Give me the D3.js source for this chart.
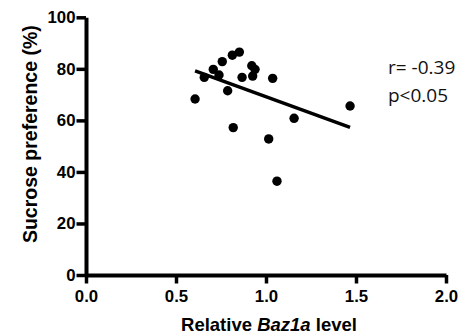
<!DOCTYPE html>
<html>
<head>
<meta charset="utf-8">
<script src="https://cdn.jsdelivr.net/npm/d3@7"></script>
<style>
  body { margin: 0; background: #fff; }
  svg { display: block; }
  .axis text { font-family: "Liberation Sans", Arial, sans-serif; font-weight: bold; font-size: 16.8px; fill: #000; }
</style>
</head>
<body>
<svg id="chart" width="462" height="335"></svg>
<script>
// Relative Baz1a level (x) vs sucrose preference in % (y)
const bazLevel = [0.606, 0.657, 0.707, 0.739, 0.757, 0.787, 0.813, 0.852, 0.818,
                  0.867, 0.921, 0.939, 0.926, 1.037, 1.015, 1.061, 1.156, 1.467];
const sucrosePref = [68.3, 76.7, 79.8, 77.6, 82.8, 71.5, 85.3, 86.5, 57.2,
                     76.7, 81.2, 79.8, 77.2, 76.3, 52.8, 36.4, 60.8, 65.6];
const xTicks = [0, 0.5, 1.0, 1.5, 2.0];
const yTicks = [0, 20, 40, 60, 80, 100];
const statLines = ["r= -0.39", "p<0.05"];

const svg = d3.select("#chart");

const x = d3.scaleLinear().domain([0, 2]).range([86, 446]);
const y = d3.scaleLinear().domain([0, 100]).range([275, 17.3]);

const axisW = 4;

// x axis
const gx = svg.append("g")
  .attr("class", "axis")
  .attr("transform", `translate(0,${y(0)})`)
  .call(d3.axisBottom(x).tickValues(xTicks).tickFormat(d3.format(".1f"))
    .tickSize(8.5).tickSizeOuter(0).tickPadding(6.5));
gx.select(".domain").attr("stroke", "#000").attr("stroke-width", axisW);
gx.selectAll(".tick line").attr("stroke", "#000").attr("stroke-width", 3.5);

// y axis
const gy = svg.append("g")
  .attr("class", "axis")
  .attr("transform", `translate(${x(0)},0)`)
  .call(d3.axisLeft(y).tickValues(yTicks)
    .tickSize(9.5).tickSizeOuter(0).tickPadding(1));
gy.select(".domain").attr("stroke", "#000").attr("stroke-width", axisW);
gy.selectAll(".tick line").attr("stroke", "#000").attr("stroke-width", 3.5);

// linear regression
const pts = bazLevel.map((v, i) => [v, sucrosePref[i]]);
const mx = d3.mean(bazLevel), my = d3.mean(sucrosePref);
const slope = d3.sum(pts, p => (p[0] - mx) * (p[1] - my)) / d3.sum(pts, p => (p[0] - mx) ** 2);
const icpt = my - slope * mx;
const [x0, x1] = d3.extent(bazLevel);

svg.append("line")
  .attr("x1", x(x0)).attr("y1", y(icpt + slope * x0))
  .attr("x2", x(x1)).attr("y2", y(icpt + slope * x1))
  .attr("stroke", "#000").attr("stroke-width", 3.5);

svg.append("g").selectAll("circle")
  .data(pts)
  .join("circle")
  .attr("cx", d => x(d[0]))
  .attr("cy", d => y(d[1]))
  .attr("r", 4.7)
  .attr("fill", "#000");

// axis titles
svg.append("text")
  .attr("transform", `translate(37,${(y(0) + y(100)) / 2 - 12}) rotate(-90)`)
  .attr("text-anchor", "middle")
  .style("font-family", "Liberation Sans, Arial, sans-serif")
  .style("font-weight", "bold").style("font-size", "19.5px")
  .text("Sucrose preference (%)");

const xt = svg.append("text")
  .attr("x", 269).attr("y", 331)
  .attr("text-anchor", "middle")
  .style("font-family", "Liberation Sans, Arial, sans-serif")
  .style("font-weight", "bold").style("font-size", "18.5px");
xt.append("tspan").text("Relative ");
xt.append("tspan").style("font-style", "italic").text("Baz1a");
xt.append("tspan").text(" level");

// correlation stats
svg.append("g").selectAll("text")
  .data(statLines)
  .join("text")
  .attr("x", 388)
  .attr("y", (d, i) => 73.5 + i * 28.5)
  .style("font-family", "Open Sans, sans-serif")
  .style("font-size", "19px")
  .attr("fill", "#111")
  .text(d => d);
</script>
</body>
</html>
